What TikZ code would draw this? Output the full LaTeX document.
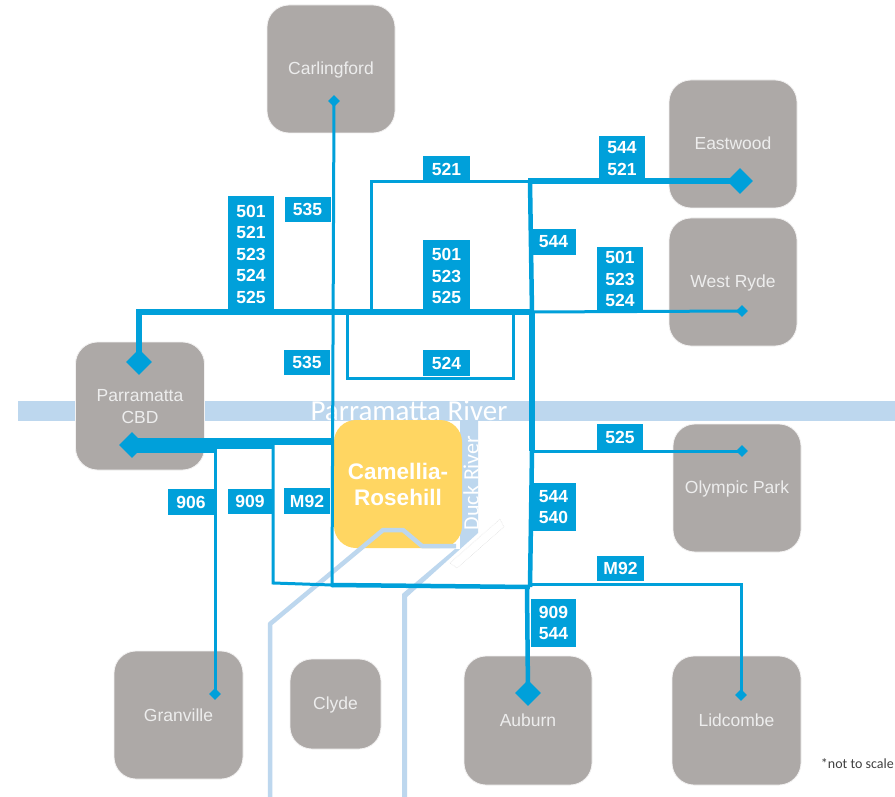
\documentclass[tikz,border=0pt]{standalone}
\usepackage{fontspec}
\setmainfont{Liberation Sans}
\newfontfamily\calib{Carlito}
\usetikzlibrary{shapes.geometric}
\definecolor{routeblue}{HTML}{00A0DA}
\definecolor{stationgrey}{HTML}{ADA9A7}
\definecolor{riverblue}{HTML}{BDD7EE}
\definecolor{siteyellow}{HTML}{FFD662}
\newcommand{\sstrut}{\rule[-2pt]{0pt}{16pt}}
\tikzset{
  station/.style={draw=white!85!stationgrey,line width=0.8pt,fill=stationgrey,rounded corners=22pt,inner sep=0pt,align=center,text=white!93!black,font=\fontsize{17.5}{22}\selectfont},
  routelabel/.style={fill=routeblue,text=white,inner sep=0pt,align=center,font=\bfseries\fontsize{17.5}{21.5}\selectfont},
  bigstop/.style={diamond,fill=routeblue,inner sep=0pt,minimum width=26pt,minimum height=26pt},
  smallstop/.style={diamond,fill=routeblue,inner sep=0pt,minimum width=12pt,minimum height=12pt},
  route/.style={draw=routeblue,line width=3pt,line join=miter},
  medroute/.style={draw=routeblue,line width=4.5pt},
  thick route/.style={draw=routeblue,line width=6.5pt},
  riverline/.style={draw=riverblue,line width=4.5pt,line join=round},
}
\newcommand{\stationbox}[6]{\node[station,minimum width=#4pt,minimum height=#5pt] (#1) at (#2,#3) {#6};}
\newcommand{\rlabel}[6]{\node[routelabel,minimum width=#4pt,minimum height=#5pt] (#1) at (#2,#3) {#6};}
\begin{document}
\begin{tikzpicture}[x=1pt,y=-1pt]
\useasboundingbox (0,0) rectangle (895,797);
\fill[white] (0,0) rectangle (895,797);
% rivers
\fill[riverblue] (18,401) rectangle (895,421);
\fill[riverblue] (460,421) -- (478,421) -- (478,533) -- (407,597) -- (407,797) -- (402,797) -- (402,594) -- (455,549) -- (460,549) -- cycle;
\node[text=white,font=\calib\fontsize{29}{29}\selectfont,anchor=center,inner sep=0pt] (rivername) at (409,411) {Parramatta River};
\node[text=white,font=\calib\fontsize{22}{22}\selectfont,rotate=90,inner sep=0pt] (duckname) at (471,483) {Duck River};
\draw[gray!30,densely dotted,line width=0.5pt] (450,563) -- (500,519) -- (504,527) -- (457,568) -- cycle;
% stations
\stationbox{carl}{331}{69}{128}{128}{\sstrut Carlingford}
\stationbox{east}{733}{144}{128}{128}{\sstrut Eastwood}
\stationbox{wryde}{733}{282}{128}{128}{\sstrut West Ryde}
\stationbox{parra}{140}{406}{129}{128}{\rule{0pt}{14pt}Parramatta\\CBD}
\stationbox{olym}{737}{488}{128}{128}{\sstrut Olympic Park}
\stationbox{gran}{178.500}{715}{129}{128}{\sstrut Granville}
\stationbox{clyde}{335.500}{704}{91}{90}{\sstrut Clyde}
\stationbox{aubn}{528}{720.500}{128}{129}{\sstrut Auburn}
\stationbox{lidc}{736.500}{720.500}{129}{129}{\sstrut Lidcombe}
\node[fill=siteyellow,rounded corners=22pt,inner sep=0pt,minimum width=128pt,minimum height=128pt,align=center,text=white,font=\bfseries\fontsize{22.5}{26}\selectfont] (cam) at (398,484) {Camellia-\\Rosehill};
% light river line across the site
\coordinate (c1) at (270,797);
\coordinate (c2) at (270,624);
\coordinate (c3) at (383,530);
\coordinate (c4) at (403,530);
\coordinate (c5) at (422,546);
\coordinate (c6) at (456,546);
\draw[riverline] (c1) -- (c2) -- (c3) -- (c4) -- (c5) -- (c6);
% stops
\node[bigstop] (sParraN) at (139,362) {};
\node[bigstop] (sParraS) at (132,445) {};
\node[bigstop] (sEast) at (740,181) {};
\node[bigstop] (sAub) at (528,693) {};
\node[smallstop] (sCarl) at (334,101) {};
\node[smallstop] (sWest) at (742,311) {};
\node[smallstop] (sOly) at (742,451) {};
\node[smallstop] (sGran) at (215,694) {};
\node[smallstop] (sLid) at (741,695) {};
% junctions
\coordinate (n2) at (532,312);
\coordinate (n3) at (371,312);
\coordinate (n4) at (371,182);
\coordinate (n5) at (530,182);
\coordinate (n6) at (347,312);
\coordinate (n7) at (347,378);
\coordinate (n8) at (513,378);
\coordinate (n9) at (513,312);
\coordinate (m1) at (532,451);
\coordinate (m2) at (530,587);
\coordinate (m3) at (527,587);
\coordinate (b1) at (217,445);
\coordinate (b1b) at (217,443.500);
\coordinate (b2) at (273,443.500);
\coordinate (b2b) at (273,441.500);
\coordinate (b3) at (332,441.500);
\coordinate (g1) at (215,445);
\coordinate (w1) at (273,445);
\coordinate (w2) at (273,583);
\coordinate (w3) at (332,585);
\coordinate (c535) at (332,587);
\coordinate (l1) at (741,584);
\coordinate (e0) at (528,181);
% routes
\draw[route] (sCarl.center) -- (c535);
\draw[thick route] (sParraN.center) |- (n2);
\draw[route] (n2) -- (sWest.center);
\draw[route] (n3) -- (n4) -- (n5);
\draw[route] (n6) -- (n7) -- (n8) -- (n9);
\draw[thick route] (e0) -- (sEast.center);
\draw[medroute] (n5) -- (n2);
\draw[thick route] (n2) -- (m1);
\draw[route] (m1) -- (sOly.center);
\draw[medroute] (m1) -- (m2);
\draw[medroute] (m3) -- (sAub.center);
\draw[draw=routeblue,line width=15pt] (sParraS.center) -- (b1);
\draw[draw=routeblue,line width=11pt] (b1b) -- (b2);
\draw[draw=routeblue,line width=7pt] (b2b) -- (b3);
\draw[route] (g1) -- (sGran.center);
\draw[route] (w1) -- (w2) -- (w3);
\draw[medroute] (w3) -- (m2);
\draw[route] (m2) ++(0,-3) -- (l1) -- (sLid.center);
% labels
\rlabel{a906}{191}{502}{46}{26}{906}
\rlabel{a909}{250}{501}{44}{25}{909}
\rlabel{aM92}{307}{501}{46}{26}{M92}
\rlabel{a535}{307.500}{209.500}{46}{25}{535}
\rlabel{b535}{307}{362.500}{46}{25}{535}
\rlabel{left5}{251}{254}{46}{116}{501\\521\\523\\524\\525}
\rlabel{a521}{446.500}{169}{47}{26}{521}
\rlabel{mid5}{446.500}{276}{47}{72}{501\\523\\525}
\rlabel{a524}{446.500}{363}{47}{26}{524}
\rlabel{east5}{622}{158.500}{46}{45}{544\\521}
\rlabel{a544}{553.500}{242}{45}{26}{544}
\rlabel{west5}{620}{279}{46}{64}{501\\523\\524}
\rlabel{a525}{620}{437}{46}{26}{525}
\rlabel{b544}{553.500}{507}{45}{48}{544\\540}
\rlabel{bM92}{620.500}{568.500}{47}{25}{M92}
\rlabel{c909}{553.500}{623}{45}{48}{909\\544}
\node[anchor=east,inner sep=0pt,text=black!75,font=\calib\fontsize{14}{16}\selectfont] (noscale) at (894,764) {*not to scale};
\end{tikzpicture}
\end{document}
